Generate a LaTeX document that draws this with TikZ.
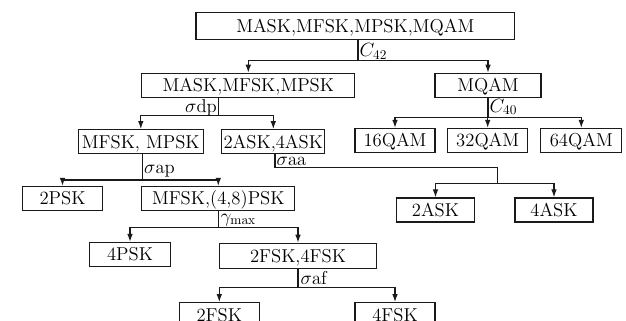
\documentclass[tikz,border=0pt]{standalone}
\usetikzlibrary{positioning, arrows.meta, calc}
\usepackage{amsmath}
\usepackage{xcolor}
\definecolor{treeline}{HTML}{1A1A1A}

\tikzset{
  box/.style={draw=treeline, line width=0.9pt, minimum height=18pt, inner xsep=0.5pt,
              inner ysep=0pt, text height=9.6pt, text depth=0pt},
  link/.style={draw=treeline, line width=0.9pt},
  arr/.style={link, -{Latex[length=6pt,width=4.2pt]}},
  lbl/.style={inner sep=0.3pt}
}

\begin{document}
\begin{tikzpicture}[x=0.75pt, y=-0.75pt, font=\fontsize{14pt}{17pt}\selectfont]
    \useasboundingbox (0,0) rectangle (626,321);
    \node[box, minimum width=239pt, minimum height=20pt] (top) at (355.3,26) {MASK,MFSK,MPSK,MQAM};
    \node[box, minimum width=159.75pt] (mfp) at (248.3,85.3) {MASK,MFSK,MPSK};
    \node[box, minimum width=79.5pt] (mqam) at (488,85.3) {MQAM};
    \node[box, minimum width=93.75pt] (fp) at (140.8,141.7) {MFSK, MPSK};
    \node[box, minimum width=77.25pt] (ask24) at (273.3,141.7) {2ASK,4ASK};
    \node[box, minimum width=60pt] (q16) at (395,140.5) {16QAM};
    \node[box, minimum width=60pt] (q32) at (487.7,140.5) {32QAM};
    \node[box, minimum width=60.75pt] (q64) at (581.3,140.5) {64QAM};
    \node[box, minimum width=60pt] (psk2) at (62.5,198.5) {2PSK};
    \node[box, minimum width=114.75pt] (fpsk48) at (218.3,198.5) {MFSK,(4,8)PSK};
    \node[box, minimum width=58.5pt] (ask2) at (435.5,210) {2ASK};
    \node[box, minimum width=58.5pt] (ask4) at (554,210) {4ASK};
    \node[box, minimum width=60.75pt] (psk4) at (130,254.5) {4PSK};
    \node[box, minimum width=117.75pt, minimum height=18.75pt] (fsk24) at (298,255.8) {2FSK,4FSK};
    \node[box, minimum width=60pt] (fsk2) at (219.3,314.7) {2FSK};
    \node[box, minimum width=60pt] (fsk4) at (395,314.7) {4FSK};
    \coordinate (aasplit) at (497.7,183.3);

    \draw[arr] ([xshift=2pt]top.south) -- ++(0,20.5) -| (mfp.north);
    \draw[arr] ([xshift=2pt]top.south) -- ++(0,20.5) -| (mqam.north);
    \node[lbl, anchor=west] (c42) at (359,51.5) {$C_{42}$};

    \draw[arr] ([xshift=-22.5pt]mfp.south) -- ++(0,17.7) -| (fp.north);
    \draw[arr] ([xshift=-22.5pt]mfp.south) -- ++(0,17.7) -| (ask24.north);
    \node[lbl, anchor=east] (sdp) at (217.5,107.5) {$\sigma$dp};

    \draw[arr] (mqam.south) -- ++(0,19.4) -| (q16.north);
    \draw[arr] (mqam.south) -- ++(0,19.4) -| (q32.north);
    \draw[arr] (mqam.south) -- ++(0,19.4) -| (q64.north);
    \node[lbl, anchor=west] (c40) at (489,107) {$C_{40}$};

    \draw[arr] ([xshift=1pt]fp.south) -- ++(0,25.8) -| (psk2.north);
    \draw[arr] ([xshift=1pt]fp.south) -- ++(0,25.8) -| (fpsk48.north);
    \node[lbl, anchor=west] (sap) at (143.5,171.5) {$\sigma$ap};

    \draw[arr] ([xshift=1.2pt]ask24.south) -- ++(0,13.5) -| (aasplit) -| (ask2.north);
    \draw[arr] ([xshift=1.2pt]ask24.south) -- ++(0,13.5) -| (aasplit) -| (ask4.north);
    \node[lbl, anchor=west] (saa) at (276,161) {$\sigma$aa};

    \draw[arr] (fpsk48.south) -- ++(0,16.5) -| (psk4.north);
    \draw[arr] (fpsk48.south) -- ++(0,16.5) -| (fsk24.north);
    \node[lbl, anchor=west] (gmax) at (220,219.8) {$\gamma_{\max}$};

    \draw[arr] (fsk24.south) -- ++(0,18.4) -| (fsk2.north);
    \draw[arr] (fsk24.south) -- ++(0,18.4) -| (fsk4.north);
    \node[lbl, anchor=west] (saf) at (300,278.5) {$\sigma$af};
\end{tikzpicture}
\end{document}
